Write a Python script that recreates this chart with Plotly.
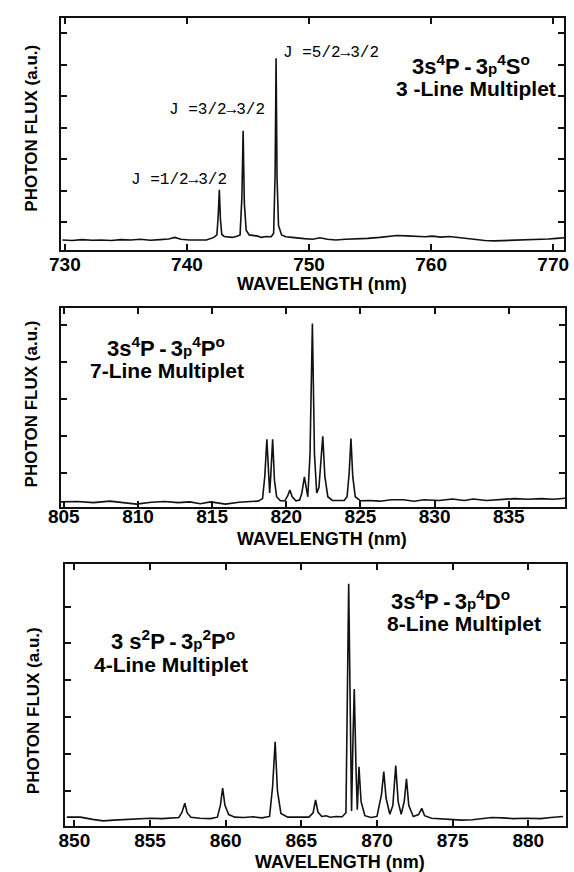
import plotly.graph_objects as go

# ---------------- data ----------------
# Panel 1: 3s4P-3p4S° multiplet
wl_1 = [729.8, 730.6, 731.4, 732.2, 733.0, 733.8, 734.6, 735.4, 736.2, 737.0,
        737.8, 738.5, 739.0, 739.5, 740.2, 740.9, 741.6, 742.2, 742.45, 742.56,
        742.65, 742.74, 742.85, 743.05, 743.3, 743.7, 744.1, 744.35, 744.5, 744.6,
        744.7, 744.85, 745.1, 745.5, 745.8, 746.1, 746.5, 746.9, 747.1, 747.22,
        747.3, 747.38, 747.5, 747.75, 748.1, 748.6, 749.0, 749.6, 750.3, 750.9,
        751.5, 752.2, 753.0, 753.8, 754.8, 755.8, 756.6, 757.2, 758.0, 758.8,
        759.5, 760.1, 760.8, 761.5, 762.1, 762.8, 763.6, 764.4, 765.2, 766.0,
        767.0, 767.8, 768.8, 769.6, 770.3, 770.9]
flux_1 = [0.44, 0.42, 0.45, 0.43, 0.44, 0.42, 0.45, 0.44, 0.46, 0.43,
          0.45, 0.47, 0.52, 0.46, 0.44, 0.45, 0.44, 0.52, 0.60, 1.20,
          2.03, 1.10, 0.62, 0.55, 0.53, 0.52, 0.56, 0.60, 1.80, 3.91,
          1.60, 0.75, 0.60, 0.58, 0.56, 0.52, 0.55, 0.54, 0.65, 2.50,
          6.21, 2.40, 0.90, 0.60, 0.54, 0.52, 0.50, 0.48, 0.46, 0.51,
          0.46, 0.44, 0.46, 0.47, 0.49, 0.52, 0.55, 0.58, 0.57, 0.55,
          0.54, 0.56, 0.53, 0.55, 0.52, 0.49, 0.45, 0.42, 0.41, 0.42,
          0.42, 0.44, 0.46, 0.47, 0.49, 0.51]

# Panel 2: 3s4P-3p4P° multiplet
wl_2 = [804.8, 805.9, 807.0, 808.1, 809.0, 809.9, 810.9, 811.8, 812.7, 813.5,
        814.2, 814.9, 815.9, 816.8, 817.6, 818.1, 818.4, 818.55, 818.69, 818.82,
        818.88, 818.95, 819.08, 819.2, 819.35, 819.6, 819.9, 820.1, 820.24, 820.4,
        820.65, 820.9, 821.05, 821.22, 821.35, 821.45, 821.6, 821.76, 821.9, 822.05,
        822.2, 822.33, 822.46, 822.6, 822.8, 823.1, 823.5, 823.9, 824.1, 824.24,
        824.36, 824.48, 824.65, 825.0, 825.6, 826.3, 827.1, 827.9, 828.6, 829.3,
        830.3, 831.2, 832.0, 832.6, 833.5, 834.6, 835.4, 836.3, 837.2, 838.0, 838.8]
flux_2 = [0.21, 0.22, 0.19, 0.23, 0.19, 0.15, 0.20, 0.22, 0.19, 0.21,
          0.16, 0.21, 0.15, 0.20, 0.22, 0.23, 0.30, 0.90, 1.91, 0.70,
          0.45, 0.90, 1.91, 0.80, 0.35, 0.24, 0.24, 0.38, 0.53, 0.35,
          0.24, 0.26, 0.45, 0.89, 0.50, 0.35, 1.50, 5.05, 1.50, 0.45,
          0.60, 1.20, 1.99, 0.90, 0.35, 0.25, 0.24, 0.25, 0.35, 1.00,
          1.93, 0.90, 0.35, 0.24, 0.25, 0.23, 0.27, 0.27, 0.23, 0.27,
          0.25, 0.29, 0.25, 0.29, 0.25, 0.27, 0.30, 0.28, 0.30, 0.28, 0.31]

# Panel 3: 3s2P-3p2P° and 3s4P-3p4D° multiplets
wl_3 = [849.5, 850.4, 851.2, 851.9, 852.6, 853.4, 854.2, 855.0, 855.8, 856.5,
        856.9, 857.1, 857.3, 857.45, 857.7, 858.3, 859.0, 859.45, 859.65, 859.8,
        859.95, 860.2, 860.6, 861.2, 861.8, 862.4, 862.9, 863.1, 863.27, 863.42,
        863.65, 864.1, 864.8, 865.5, 865.78, 865.94, 866.1, 866.35, 866.65, 866.9,
        867.3, 867.7, 867.95, 868.04, 868.13, 868.24, 868.32, 868.42, 868.5, 868.62,
        868.7, 868.81, 868.95, 869.2, 869.6, 870.0, 870.3, 870.45, 870.6, 870.85,
        871.05, 871.24, 871.4, 871.6, 871.8, 871.95, 872.1, 872.4, 872.75, 872.96,
        873.15, 873.6, 874.2, 874.9, 875.6, 876.3, 877.0, 877.6, 878.3, 879.0,
        879.9, 880.8, 881.5, 882.3]
flux_3 = [0.28, 0.28, 0.22, 0.18, 0.20, 0.22, 0.24, 0.25, 0.24, 0.25,
          0.27, 0.40, 0.66, 0.40, 0.28, 0.25, 0.24, 0.28, 0.60, 1.07,
          0.60, 0.35, 0.28, 0.27, 0.29, 0.26, 0.30, 1.10, 2.33, 1.00,
          0.38, 0.28, 0.27, 0.28, 0.40, 0.75, 0.42, 0.30, 0.32, 0.28,
          0.30, 0.29, 0.40, 3.00, 6.62, 3.00, 0.45, 2.50, 3.76, 1.50,
          0.48, 1.65, 0.70, 0.32, 0.27, 0.30, 0.90, 1.52, 0.80, 0.36,
          0.60, 1.68, 0.70, 0.36, 0.70, 1.32, 0.60, 0.30, 0.35, 0.52,
          0.32, 0.25, 0.24, 0.22, 0.20, 0.21, 0.24, 0.27, 0.26, 0.24,
          0.25, 0.24, 0.27, 0.30]

xticks_1 = [730, 740, 750, 760, 770]
xticks_2 = [805, 810, 815, 820, 825, 830, 835]
xticks_3 = [850, 855, 860, 865, 870, 875, 880]
yticks_1 = [1, 2, 3, 4, 5, 6, 7]
yticks_2 = [1, 2, 3, 4, 5]
yticks_3 = [1, 2, 3, 4, 5, 6]

x_title = "WAVELENGTH (nm)"
y_title = "PHOTON FLUX (a.u.)"

# ---------------- figure ----------------
W, H = 574, 872
LINE = "#111111"
SANS = "Liberation Sans"

fig = go.Figure()
for i, (wl, fl) in enumerate([(wl_1, flux_1), (wl_2, flux_2), (wl_3, flux_3)], start=1):
    fig.add_trace(go.Scatter(x=wl, y=fl, mode="lines",
                             line=dict(color=LINE, width=1.6),
                             xaxis="x" if i == 1 else f"x{i}",
                             yaxis="y" if i == 1 else f"y{i}",
                             showlegend=False, hoverinfo="skip"))

def xax(dom, rng, ticks, anchor, standoff):
    return dict(domain=dom, range=rng, tickvals=ticks, ticktext=[str(t) for t in ticks],
                showline=True, linecolor=LINE, linewidth=1.6, mirror="ticks",
                ticks="inside", ticklen=6, tickwidth=1.5, tickcolor=LINE,
                showgrid=False, zeroline=False, anchor=anchor,
                tickfont=dict(family=SANS, size=19, color="#000", weight="bold"),
                ticklabelstandoff=standoff)

def yax(dom, rng, ticks, anchor):
    return dict(domain=dom, range=rng, tickvals=ticks, showticklabels=False,
                showline=True, linecolor=LINE, linewidth=1.6, mirror="ticks",
                ticks="inside", ticklen=6, tickwidth=1.5, tickcolor=LINE,
                showgrid=False, zeroline=False, anchor=anchor)

fig.update_layout(
    width=W, height=H, margin=dict(l=0, r=0, t=0, b=0),
    paper_bgcolor="white", plot_bgcolor="white",
    xaxis=xax([49.8 / W, 569 / W], [729.7, 770.9], xticks_1, "y", -4),
    yaxis=yax([1 - 250 / H, 1 - 18.3 / H], [0.12, 7.48], yticks_1, "x"),
    xaxis2=xax([49.4 / W, 570 / W], [804.8, 838.8], xticks_2, "y2", -8),
    yaxis2=yax([1 - 506.7 / H, 1 - 308.3 / H], [0.08, 5.46], yticks_2, "x2"),
    xaxis3=xax([54 / W, 571 / W], [849.4, 882.5], xticks_3, "y3", -4),
    yaxis3=yax([1 - 826 / H, 1 - 564 / H], [0.04, 7.16], yticks_3, "x3"),
)

bold = dict(family=SANS, color="#000", weight="bold")
mono = dict(family="Liberation Mono", size=16, color="#000")
C = dict(showarrow=False, xanchor="center", yanchor="middle")

ann = []
# J labels (panel 1)
for txt, x, y in [("J =1/2→3/2", 739.37, 2.34),
                  ("J =3/2→3/2", 742.42, 4.57),
                  ("J =5/2→3/2", 751.8, 6.37)]:
    ann.append(dict(text=txt, x=x, y=y, xref="x", yref="y", font=mono, **C))

sp = "\u2009"
small_p = "<span style='font-size:15px'>p</span>"
labels = [
    (f"3s<sup>4</sup>P{sp}-{sp}3{small_p}<sup>4</sup>S<sup>o</sup>", 763.25, 5.99, "x", "y", 22),
    ("3 -Line Multiplet", 763.7, 5.25, "x", "y", 21),
    (f"3s<sup>4</sup>P{sp}-{sp}3{small_p}<sup>4</sup>P<sup>o</sup>", 811.9, 4.4, "x2", "y2", 22),
    ("7-Line Multiplet", 811.96, 3.76, "x2", "y2", 21),
    (f"3s<sup>4</sup>P{sp}-{sp}3{small_p}<sup>4</sup>D<sup>o</sup>", 874.84, 6.18, "x3", "y3", 22),
    ("8-Line Multiplet", 875.73, 5.55, "x3", "y3", 21),
    (f"3 s<sup>2</sup>P{sp}-{sp}3{small_p}<sup>2</sup>P<sup>o</sup>", 856.55, 5.1, "x3", "y3", 22),
    ("4-Line Multiplet", 856.39, 4.42, "x3", "y3", 21),
]
for txt, x, y, xr, yr, sz in labels:
    ann.append(dict(text=txt, x=x, y=y, xref=xr, yref=yr, font=dict(bold, size=sz), **C))

# axis titles
for (px, py) in [(319, 284), (319, 539), (337.5, 862)]:
    ann.append(dict(text=x_title, x=px / W, y=1 - py / H, xref="paper", yref="paper",
                    font=dict(bold, size=18), **C))
for (px, py) in [(19, 128.3), (19, 404), (21, 710.8)]:
    ann.append(dict(text=y_title, x=px / W, y=1 - py / H, xref="paper", yref="paper",
                    textangle=-90, font=dict(bold, size=17), **C))

fig.update_layout(annotations=ann)

fig.write_html("out.html", config={"displayModeBar": False},
               post_script="document.body.style.margin='0';")
